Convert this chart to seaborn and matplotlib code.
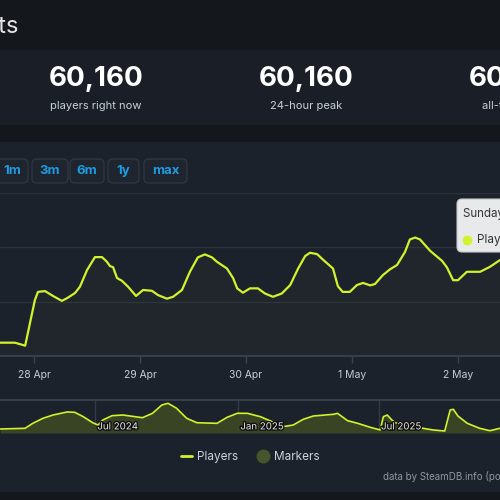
import pandas as pd
import matplotlib
matplotlib.use("Agg")
import matplotlib.pyplot as plt
import matplotlib.dates as mdates
import matplotlib.patheffects as pe
import matplotlib.transforms as mtransforms
from matplotlib.patches import FancyBboxPatch, Rectangle
from matplotlib.lines import Line2D
import seaborn as sns

# main chart: hours after 28 Apr 00:00 and concurrent players
main_hours = [-7.7, -4.3, -2.0, 0.2, 0.9, 2.5, 4.3, 6.3, 7.5, 9.3, 10.4, 12.0, 13.8, 15.4,
              16.5, 17.2, 17.9, 18.8, 19.9, 21.3, 23.1, 24.7, 26.7, 28.1, 30.1, 31.5,
              33.5, 35.3, 37.1, 38.7, 40.3, 41.4, 43.7, 45.1, 46.0, 47.3, 48.9, 50.7,
              52.3, 54.1, 56.1, 58.0, 59.8, 61.4, 62.5, 64.1, 65.4, 67.7, 68.8, 69.9,
              71.5, 73.1, 74.5, 76.1, 77.2, 79.0, 80.6, 82.2, 84.0, 85.1, 86.3, 87.4,
              89.7, 92.4, 93.5, 94.9, 96.0, 98.0, 101.0, 103.2, 105.5, 106.5]
main_players = [4900, 4900, 3800, 20600, 23600, 23900, 22100, 20300, 21300, 23200, 25500,
                31600, 36400, 36400, 34700, 33100, 32700, 28700, 27700, 25500, 22100,
                24300, 24000, 22400, 21100, 21800, 24300, 31000, 36300, 37400, 36300,
                34700, 32200, 28600, 24900, 23300, 24900, 24900, 23000, 21800, 23000,
                26100, 32200, 36800, 38000, 37500, 35500, 32200, 25700, 23600, 23600,
                26100, 26900, 26000, 26500, 29800, 31900, 33500, 38300, 42900, 43600,
                42900, 38700, 35000, 32600, 27900, 27900, 31000, 31000, 32800, 35300, 36000]

# navigator: full history
nav_dates = ["2024-03-01", "2024-04-02", "2024-04-12", "2024-04-25", "2024-05-08",
             "2024-05-26", "2024-06-05", "2024-06-16", "2024-06-28", "2024-07-05",
             "2024-07-11", "2024-07-23", "2024-08-06", "2024-08-31", "2024-09-13",
             "2024-09-25", "2024-10-03", "2024-10-14", "2024-10-27", "2024-11-09",
             "2024-12-05", "2024-12-18", "2024-12-31", "2025-01-13", "2025-01-30",
             "2025-02-14", "2025-02-28", "2025-03-13", "2025-03-26", "2025-04-08",
             "2025-05-04", "2025-05-09", "2025-05-22", "2025-06-04", "2025-06-20",
             "2025-07-03", "2025-07-07", "2025-07-12", "2025-07-18", "2025-07-22",
             "2025-08-27", "2025-09-09", "2025-09-24", "2025-10-01", "2025-10-05",
             "2025-10-11", "2025-10-23", "2025-11-08", "2025-11-21", "2025-12-04"]
nav_players = [7300, 8500, 17600, 26700, 32700, 38200, 37600, 29600, 18700, 14500,
               23600, 31500, 32700, 27800, 35800, 50900, 54000, 44900, 26700, 18700,
               17600, 28500, 35800, 35800, 29600, 20500, 11500, 14500, 24900, 30900,
               34000, 35800, 22400, 17600, 10400, 5500, 29600, 32700, 23600, 18700,
               8500, 5500, 3600, 41800, 43100, 30900, 17600, 8500, 4200, 8500]

stat_values = ["60,160", "60,160", "60,160"]
stat_labels = ["players right now", "24-hour peak", "all-time peak"]
range_buttons = ["1m", "3m", "6m", "1y", "max"]
day_ticks = ["2025-04-28", "2025-04-29", "2025-04-30", "2025-05-01", "2025-05-02"]
nav_ticks = ["2024-07-01", "2025-01-01", "2025-07-01"]
nav_tick_labels = ["Jul 2024", "Jan 2025", "Jul 2025"]

LINE = "#d2f22c"
BG = "#14171c"
PANEL = "#1c222b"
GRID = "#2b323d"
AXIS = "#3b4350"


def fx(x):
    return x / 500


def fy(y):
    return 1 - y / 500


sns.set_theme(style="dark")
plt.rcParams["font.family"] = ["Inter", "DejaVu Sans"]

fig = plt.figure(figsize=(5, 5), dpi=100)
fig.patch.set_facecolor(BG)

# panels
fig.add_artist(Rectangle((0, fy(125)), 1, 75 / 500, transform=fig.transFigure,
                         fc="#1a1f27", ec="none", zorder=0))
fig.add_artist(Rectangle((0, fy(492)), 1, 350 / 500, transform=fig.transFigure,
                         fc=PANEL, ec="none", zorder=0))

fig.text(fx(19), fy(27), "Charts", ha="right", va="center", fontsize=17, color="#e4e6e8")

# stats row
for cx, val, lab in zip([96, 306, 516], stat_values, stat_labels):
    fig.text(fx(cx), fy(79), val, ha="center", va="center", fontsize=20,
             fontweight="bold", color="#ffffff")
    fig.text(fx(cx), fy(106), lab, ha="center", va="center", fontsize=8, color="#c7d0d9")

# range buttons
btn_x = [(-8, 28), (32, 68), (70, 104), (108, 139), (144, 187)]
for (x0, x1), lab in zip(btn_x, range_buttons):
    fig.add_artist(FancyBboxPatch((fx(x0), fy(183)), (x1 - x0) / 500, 24 / 500,
                                  boxstyle="round,pad=0,rounding_size=0.01",
                                  transform=fig.transFigure, fc="#1e252f",
                                  ec="#2e3641", lw=1))
    fig.text(fx((x0 + x1) / 2 if x0 > 0 else 12), fy(171), lab, ha="center", va="center",
             fontsize=9.5, fontweight="bold", color="#1e9be0")

# main chart
base = pd.Timestamp("2025-04-28")
main_df = pd.DataFrame({"time": base + pd.to_timedelta(main_hours, unit="h"),
                        "players": main_players})
ax = fig.add_axes([0, fy(356), 1, (356 - 193) / 500])
ax.set_facecolor("none")
sns.lineplot(data=main_df, x="time", y="players", ax=ax, color=LINE, lw=1.6, zorder=3)
ax.fill_between(main_df["time"], main_df["players"], 0, color=LINE, alpha=0.025, lw=0)
ax.set_xlim(base + pd.Timedelta(hours=-34 / 106 * 24), base + pd.Timedelta(hours=466 / 106 * 24))
ax.set_ylim(0, 60000)
ax.set_yticks([20000, 40000, 60000])
ax.grid(axis="y", color=GRID, lw=1)
ax.grid(axis="x", visible=False)
ax.set_xticks(pd.to_datetime(day_ticks))
ax.xaxis.set_major_formatter(mdates.DateFormatter("%-d %b"))
ax.tick_params(axis="y", left=False, labelleft=False)
ax.tick_params(axis="x", bottom=True, length=5, width=1, color=AXIS, labelsize=7.5,
               labelcolor="#c5cdd6", pad=5)
for s in ["left", "right", "top"]:
    ax.spines[s].set_visible(False)
ax.spines["bottom"].set_color(AXIS)
ax.set_xlabel("")
ax.set_ylabel("")

# navigator
nav_df = pd.DataFrame({"date": pd.to_datetime(nav_dates), "players": nav_players})
nav = fig.add_axes([0, fy(433), 1, 33 / 500])
nav.set_facecolor("none")
ref = pd.Timestamp("2024-07-01")
nav.set_xlim(ref - pd.Timedelta(days=95 * 184 / 143), ref + pd.Timedelta(days=405 * 184 / 143))
nav.set_ylim(0, 60000)
for d in pd.to_datetime(nav_ticks):
    nav.axvline(d, color="#333b47", lw=1, zorder=1)
nav.fill_between(nav_df["date"], nav_df["players"], 0, color="#3a4623", alpha=0.95, lw=0, zorder=2)
sns.lineplot(data=nav_df, x="date", y="players", ax=nav, color=LINE, lw=1.2, zorder=3)
trans = mtransforms.blended_transform_factory(nav.transData, nav.transAxes)
for d, lab in zip(pd.to_datetime(nav_ticks), nav_tick_labels):
    nav.text(d + pd.Timedelta(days=3), 0.2, lab, transform=trans, ha="left", va="center",
             fontsize=7, color="#e8e8e8", zorder=4,
             path_effects=[pe.withStroke(linewidth=2, foreground="#111111")])
nav.set_xticks([])
nav.set_yticks([])
nav.grid(False)
for s in ["left", "right", "bottom"]:
    nav.spines[s].set_visible(False)
nav.spines["top"].set_color(AXIS)
nav.set_xlabel("")
nav.set_ylabel("")

# tooltip
fig.add_artist(FancyBboxPatch((fx(457), fy(252)), 80 / 500, 53 / 500,
                              boxstyle="round,pad=0,rounding_size=0.01",
                              transform=fig.transFigure, fc="#e8e9ea", ec="#c4c6c8",
                              lw=0.8, zorder=10))
fig.text(fx(463), fy(214), "Sunday, 27 April 2025", ha="left", va="center",
         fontsize=8.3, color="#333333", zorder=11)
fig.add_artist(Line2D([fx(467)], [fy(240)], marker="o", markersize=6, color=LINE,
                      transform=fig.transFigure, zorder=11))
fig.text(fx(477), fy(240), "Players", ha="left", va="center", fontsize=8.5,
         color="#333333", zorder=11)

# legend
handles = [Line2D([0], [0], color=LINE, lw=2),
           Line2D([0], [0], marker="o", ls="none", markersize=10,
                  markerfacecolor="#48552c", markeredgecolor="none")]
fig.legend(handles, ["Players", "Markers"], loc="center", bbox_to_anchor=(0.5, fy(457)),
           ncol=2, frameon=False, fontsize=8.5, labelcolor="#c6d4df", handlelength=1.0,
           columnspacing=1.6, handletextpad=0.4)

fig.text(fx(383), fy(476), "data by SteamDB.info (powered by highcharts.com)", ha="left",
         va="center", fontsize=7, color="#8f98a0")

fig.savefig("out.png", dpi=100, facecolor=fig.get_facecolor())
